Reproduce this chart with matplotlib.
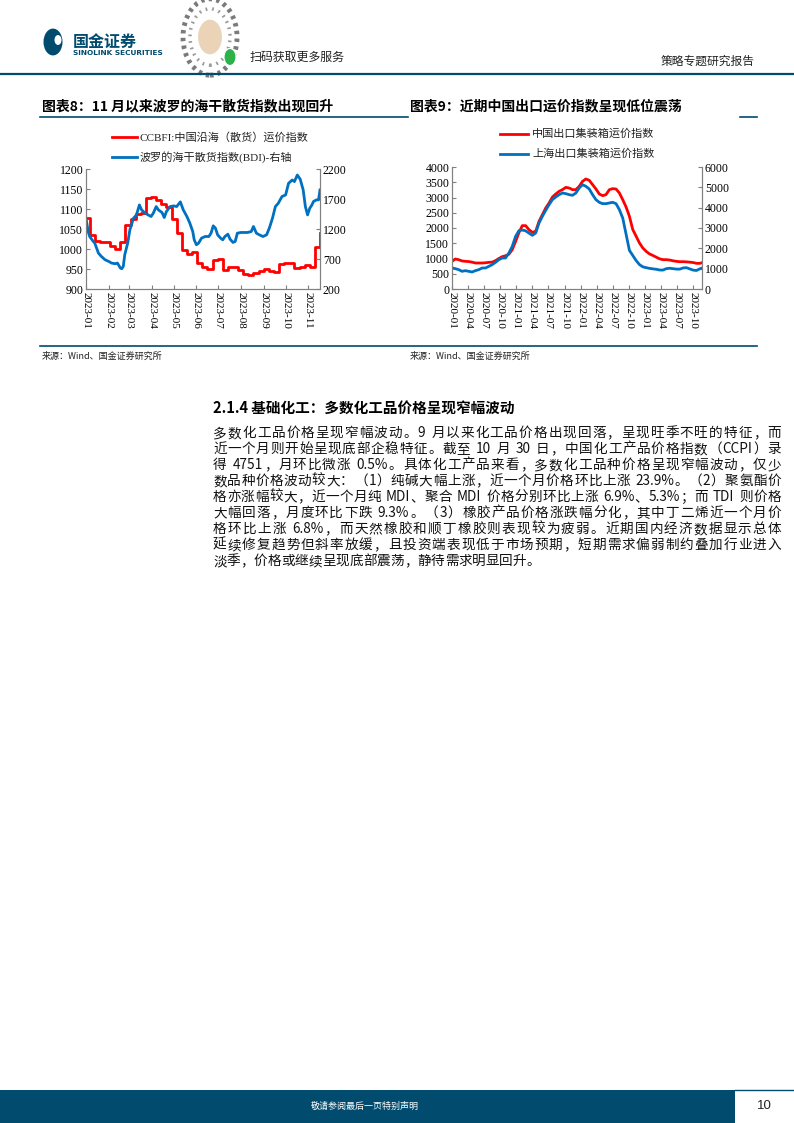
import re
import matplotlib
matplotlib.use('Agg')
import matplotlib.pyplot as plt
import matplotlib.dates as mdates
import pandas as pd
from matplotlib.lines import Line2D
from matplotlib.patches import Rectangle, Circle

W, H = 794, 1123
CJK = 'Noto Sans CJK SC'
SERIF = ['Liberation Serif', CJK]
NAVY = '#004B6E'
RED = '#FF0000'
BLUE = '#0070C0'

# ---- chart 8: CCBFI (weekly) and BDI ----
ccbfi_dates = pd.date_range('2022-12-30', periods=47, freq='W-FRI')
ccbfi_values = [1077, 1035, 1019, 1017, 1017, 1008, 1000, 1017, 1060, 1075, 1088, 1091,
                1127, 1129, 1123, 1112, 1106, 1075, 1040, 998, 988, 992, 965, 956, 950,
                973, 975, 948, 954, 956, 948, 937, 934, 941, 944, 951, 944, 942, 962,
                966, 966, 952, 954, 959, 956, 1005, 1040]

bdi_dates = ['2023-01-01', '2023-01-04', '2023-01-06', '2023-01-11', '2023-01-13', '2023-01-18',
             '2023-01-22', '2023-01-27', '2023-02-01', '2023-02-05', '2023-02-10', '2023-02-13',
             '2023-02-17', '2023-02-19', '2023-02-21', '2023-02-23', '2023-02-27', '2023-03-02',
             '2023-03-07', '2023-03-11', '2023-03-15', '2023-03-18', '2023-03-23', '2023-03-27',
             '2023-03-31', '2023-04-03', '2023-04-07', '2023-04-10', '2023-04-15', '2023-04-18',
             '2023-04-21', '2023-04-26', '2023-05-01', '2023-05-05', '2023-05-10', '2023-05-14',
             '2023-05-19', '2023-05-23', '2023-05-27', '2023-05-29', '2023-06-01', '2023-06-04',
             '2023-06-08', '2023-06-13', '2023-06-18', '2023-06-21', '2023-06-24', '2023-06-27',
             '2023-06-30', '2023-07-04', '2023-07-07', '2023-07-10', '2023-07-14', '2023-07-17',
             '2023-07-21', '2023-07-24', '2023-07-27', '2023-08-01', '2023-08-05', '2023-08-10',
             '2023-08-15', '2023-08-18', '2023-08-22', '2023-08-26', '2023-08-31', '2023-09-05',
             '2023-09-09', '2023-09-13', '2023-09-17', '2023-09-21', '2023-09-26', '2023-10-01',
             '2023-10-05', '2023-10-10', '2023-10-13', '2023-10-17', '2023-10-21', '2023-10-25',
             '2023-10-28', '2023-10-31', '2023-11-03', '2023-11-06', '2023-11-08', '2023-11-12',
             '2023-11-15', '2023-11-17']
bdi_values = [1380, 1158, 1075, 992, 965, 798, 743, 688, 660, 632, 621, 632, 549, 538, 577,
              771, 965, 1186, 1380, 1435, 1602, 1519, 1463, 1435, 1408, 1463, 1574, 1519,
              1474, 1391, 1491, 1574, 1585, 1574, 1652, 1519, 1408, 1297, 1158, 1020, 937,
              965, 1048, 1075, 1075, 1131, 1253, 1214, 1103, 1048, 1020, 1075, 1114, 1031,
              976, 992, 1131, 1142, 1142, 1142, 1158, 1242, 1131, 1103, 1075, 1103, 1225,
              1380, 1574, 1630, 1741, 1768, 1962, 2017, 1990, 2100, 2028, 1851, 1574, 1435,
              1546, 1602, 1657, 1685, 1685, 1851]

# ---- chart 9: CCFI (left) and SCFI (right), read every ~19 days ----
freight_dates = pd.date_range('2020-01-01', periods=76, freq='19D')
ccfi_values = [907, 984, 960, 920, 907, 900, 880, 852, 852, 852, 860, 874, 880, 930, 1000,
               1060, 1090, 1140, 1290, 1560, 1850, 2077, 2077, 1945, 1858, 1891, 2219, 2437,
               2656, 2820, 3016, 3115, 3202, 3257, 3333, 3311, 3257, 3257, 3366, 3530, 3607,
               3563, 3421, 3279, 3115, 3060, 3093, 3257, 3290, 3279, 3148, 2929, 2689, 2383,
               1950, 1730, 1510, 1345, 1235, 1150, 1100, 1045, 990, 962, 962, 950, 925, 907,
               895, 896, 890, 880, 868, 842, 840, 874]
scfi_values = [1033, 1000, 951, 869, 902, 869, 836, 902, 951, 1033, 1033, 1115, 1197, 1311,
               1443, 1525, 1525, 1770, 2098, 2590, 2870, 2900, 2860, 2750, 2640, 2754, 3246,
               3574, 3869, 4148, 4393, 4525, 4639, 4721, 4689, 4639, 4607, 4721, 4967, 5131,
               5049, 4918, 4639, 4393, 4262, 4197, 4197, 4230, 4262, 4197, 3902, 3492, 2700,
               1900, 1650, 1400, 1200, 1090, 1050, 1015, 990, 970, 935, 930, 1000, 1020, 1000,
               980, 975, 1033, 1050, 990, 930, 910, 990, 1050]

body_lines = [
    "多数化工品价格呈现窄幅波动。9 月以来化工品价格出现回落，呈现旺季不旺的特征，而",
    "近一个月则开始呈现底部企稳特征。截至 10 月 30 日，中国化工产品价格指数（CCPI）录",
    "得 4751，月环比微涨 0.5%。具体化工产品来看，多数化工品种价格呈现窄幅波动，仅少",
    "数品种价格波动较大：（1）纯碱大幅上涨，近一个月价格环比上涨 23.9%。（2）聚氨酯价",
    "格亦涨幅较大，近一个月纯 MDI、聚合 MDI 价格分别环比上涨 6.9%、5.3%；而 TDI 则价格",
    "大幅回落，月度环比下跌 9.3%。（3）橡胶产品价格涨跌幅分化，其中丁二烯近一个月价",
    "格环比上涨 6.8%，而天然橡胶和顺丁橡胶则表现较为疲弱。近期国内经济数据显示总体",
    "延续修复趋势但斜率放缓，且投资端表现低于市场预期，短期需求偏弱制约叠加行业进入",
    "淡季，价格或继续呈现底部震荡，静待需求明显回升。",
]


def fx(px):
    return px / W


def fy(py):
    return 1 - py / H


def ftext(x, y, s, **kw):
    kw.setdefault('family', [CJK])
    return fig.text(fx(x), fy(y), s, **kw)


def justify_line(s, x0, x1, y, fs, justify=True, **kw):
    tokens = re.findall(r'[A-Za-z0-9.%]+| |.', s)
    rend = fig.canvas.get_renderer()
    space = fs * 100 / 72 * 0.3
    items = []
    for t in tokens:
        if t == ' ':
            items.append((None, space))
        else:
            txt = ftext(0, y, t, fontsize=fs, va='baseline', **kw)
            items.append((txt, txt.get_window_extent(rend).width))
    total = sum(w for _, w in items)
    extra = (x1 - x0 - total) / (len(items) - 1) if justify else 0
    x = x0
    for txt, w in items:
        if txt is not None:
            txt.set_x(fx(x))
        x += w + extra


def style_axes(ax, axr):
    for a in (ax, axr):
        a.spines['top'].set_visible(False)
        for sp in a.spines.values():
            sp.set_color('#808080')
            sp.set_linewidth(0.8)
        a.tick_params(direction='in', length=3, color='#808080', labelsize=8.5,
                      pad=2)
        for lab in a.get_yticklabels() + a.get_xticklabels():
            lab.set_family(SERIF)
    ax.tick_params(axis='x', labelrotation=-90, labelsize=8)


fig = plt.figure(figsize=(W / 100, H / 100), dpi=100)

# ---- header ----
fig.add_artist(Circle((fx(53), fy(42)), 9.5 / W, transform=fig.transFigure,
                      facecolor=NAVY, edgecolor='none'))
fig.add_artist(Circle((fx(58), fy(40)), 3.5 / W, transform=fig.transFigure,
                      facecolor='white', edgecolor='none'))
ftext(73, 42, '国金证券', fontsize=11.5, weight='bold', color=NAVY, va='center')
ftext(73, 53, 'SINOLINK SECURITIES', fontsize=5.3, weight='bold', color=NAVY,
      va='center', family=['DejaVu Sans'])
# round mini-program code
fig.add_artist(Circle((fx(210), fy(37)), 27 / W, transform=fig.transFigure,
                      facecolor='white', edgecolor='#7a7a7a', lw=3.5,
                      linestyle=(0, (0.7, 0.9))))
fig.add_artist(Circle((fx(210), fy(37)), 20 / W, transform=fig.transFigure,
                      facecolor='none', edgecolor='#9a9a9a', lw=2.5,
                      linestyle=(0, (0.5, 1.4))))
fig.add_artist(Circle((fx(210), fy(37)), 13 / W, transform=fig.transFigure,
                      facecolor='#EBD3B8', edgecolor='white', lw=1.5))
fig.add_artist(Circle((fx(230), fy(57)), 6 / W, transform=fig.transFigure,
                      facecolor='#2DB24A', edgecolor='white', lw=0.8))
ftext(250, 57, '扫码获取更多服务', fontsize=8.6, va='center', color='#222222')
ftext(755, 61, '策略专题研究报告', fontsize=8.5, va='center', ha='right', color='#222222')
fig.add_artist(Line2D([0, 1], [fy(74), fy(74)], transform=fig.transFigure,
                      color=NAVY, lw=1.6))

# ---- titles and rules ----
ftext(42, 106, '图表8：11 月以来波罗的海干散货指数出现回升', fontsize=10,
      weight='bold', va='center', color='black')
ftext(410, 106, '图表9：近期中国出口运价指数呈现低位震荡', fontsize=10,
      weight='bold', va='center', color='black')
fig.add_artist(Line2D([fx(40), fx(408)], [fy(117), fy(117)], transform=fig.transFigure,
                      color=NAVY, lw=1.2))
fig.add_artist(Line2D([fx(740), fx(757)], [fy(117), fy(117)], transform=fig.transFigure,
                      color=NAVY, lw=1.2))
fig.add_artist(Line2D([fx(40), fx(757)], [fy(346), fy(346)], transform=fig.transFigure,
                      color=NAVY, lw=1.2))
ftext(42, 356, '来源：Wind、国金证券研究所', fontsize=6.5, va='center', color='#222222')
ftext(410, 356, '来源：Wind、国金证券研究所', fontsize=6.5, va='center', color='#222222')

# ---- chart 8 ----
ax1 = fig.add_axes([fx(86), fy(289), (320 - 86) / W, (289 - 169) / H])
ax1r = ax1.twinx()
ax1.plot(ccbfi_dates, ccbfi_values, color=RED, lw=2, drawstyle='steps-post')
ax1r.plot(pd.to_datetime(bdi_dates), bdi_values, color=BLUE, lw=2)
ax1.set_ylim(900, 1200)
ax1.set_yticks(range(900, 1201, 50))
ax1r.set_ylim(200, 2200)
ax1r.set_yticks(range(200, 2201, 500))
ax1.set_xlim(pd.Timestamp('2023-01-01'), pd.Timestamp('2023-11-17'))
ax1.xaxis.set_major_locator(mdates.MonthLocator())
ax1.xaxis.set_major_formatter(mdates.DateFormatter('%Y-%m'))
style_axes(ax1, ax1r)

# legend chart 8
for yy, col, lab in [(137, RED, 'CCBFI:中国沿海（散货）运价指数'),
                     (157, BLUE, '波罗的海干散货指数(BDI)-右轴')]:
    fig.add_artist(Line2D([fx(112), fx(137)], [fy(yy), fy(yy)], transform=fig.transFigure,
                          color=col, lw=2))
    ftext(140, yy, lab, fontsize=8, va='center', family=SERIF, color='#222222')

# ---- chart 9 ----
ax2 = fig.add_axes([fx(452), fy(289), (702 - 452) / W, (289 - 167) / H])
ax2r = ax2.twinx()
ax2.plot(freight_dates, ccfi_values, color=RED, lw=2)
ax2r.plot(freight_dates, scfi_values, color=BLUE, lw=2)
ax2.set_ylim(0, 4000)
ax2.set_yticks(range(0, 4001, 500))
ax2r.set_ylim(0, 6000)
ax2r.set_yticks(range(0, 6001, 1000))
ax2.set_xlim(pd.Timestamp('2020-01-01'), pd.Timestamp('2023-11-20'))
ax2.xaxis.set_major_locator(mdates.MonthLocator(bymonth=[1, 4, 7, 10]))
ax2.xaxis.set_major_formatter(mdates.DateFormatter('%Y-%m'))
style_axes(ax2, ax2r)

for yy, col, lab in [(134, RED, '中国出口集装箱运价指数'),
                     (154, BLUE, '上海出口集装箱运价指数')]:
    fig.add_artist(Line2D([fx(500), fx(528)], [fy(yy), fy(yy)], transform=fig.transFigure,
                          color=col, lw=2))
    ftext(532, yy, lab, fontsize=8, va='center', family=SERIF, color='#222222')

# ---- section text ----
ftext(213, 409, '2.1.4 基础化工：多数化工品价格呈现窄幅波动', fontsize=10.5,
      weight='bold', va='center', color='black')
for i, line in enumerate(body_lines):
    justify_line(line, 213, 781, 437 + 16 * i, 9.8,
                 justify=(i < len(body_lines) - 1), color='#111111')

# ---- footer ----
fig.add_artist(Rectangle((0, 0), fx(735), 33 / H, transform=fig.transFigure,
                         facecolor=NAVY, edgecolor='none'))
fig.add_artist(Line2D([fx(735), 1], [fy(1090), fy(1090)], transform=fig.transFigure,
                      color=NAVY, lw=1))
ftext(365, 1106, '敬请参阅最后一页特别声明', fontsize=6.5, color='white',
      ha='center', va='center')
ftext(764, 1106, '10', fontsize=9.5, ha='center', va='center', color='#222222',
      family=['Liberation Sans'])

fig.savefig('out.png', dpi=100)
